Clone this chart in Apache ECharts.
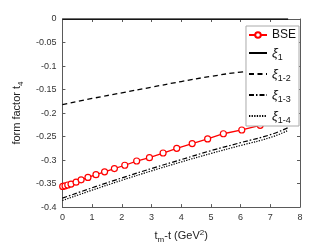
<!DOCTYPE html>
<html><head><meta charset="utf-8">
<script src="https://cdn.jsdelivr.net/npm/echarts@6/dist/echarts.min.js"></script>
<style>html,body{margin:0;padding:0;background:#fff}#c{width:332px;height:249px}</style>
</head><body><div id="c"></div>
<script>
var bseX = [0.01,0.09,0.18,0.29,0.46,0.63,0.86,1.13,1.42,1.75,2.1,2.5,2.93,3.39,3.85,4.37,4.89,5.42,6.04,6.66,7.3];
var bseY = [-0.356,-0.355,-0.353,-0.351,-0.347,-0.342,-0.337,-0.331,-0.325,-0.318,-0.311,-0.302,-0.295,-0.285,-0.275,-0.265,-0.255,-0.244,-0.236,-0.226,-0.216];
var xiX = [0,1,2,3,4,5,6,7,7.6];
var xi1Y = [0,0,0,0,0,0,0,0,0];
var xi12Y = [-0.182,-0.169,-0.157,-0.145,-0.133,-0.122,-0.113,-0.108,-0.106];
var xi13Y = [-0.381,-0.359,-0.338,-0.318,-0.299,-0.280,-0.263,-0.246,-0.231];
var xi14Y = [-0.386,-0.364,-0.343,-0.323,-0.304,-0.286,-0.269,-0.252,-0.237];
var xTicks = [0,1,2,3,4,5,6,7,8];

function pairs(xs, ys){ return xs.map(function(x,i){return [x, ys[i]];}); }
var legendLabels = {
  'BSE': '{n|BSE}',
  'xi1': '{g|ξ}{s|1}',
  'xi12': '{g|ξ}{s|1-2}',
  'xi13': '{g|ξ}{s|1-3}',
  'xi14': '{g|ξ}{s|1-4}'
};
var ax = '#5a5a5a';
var chart = echarts.init(document.getElementById('c'), null, {renderer:'canvas'});
var font = 'Liberation Sans, Arial, sans-serif';
chart.setOption({
  animation:false,
  grid:{left:43, right:32, top:19, bottom:35},
  xAxis:[{
    type:'value', min:0, max:8, interval:1,
    axisLine:{onZero:false, lineStyle:{color:ax, width:1}},
    axisTick:{inside:true, length:3, lineStyle:{color:ax}},
    splitLine:{show:false},
    axisLabel:{color:'#333', fontSize:9, fontFamily:font, margin:6,
      customValues:xTicks},
    name:'{a|t}{s|m}{a|-t (GeV}{p|2}{a|)}', nameLocation:'middle', nameGap:18,
    nameTextStyle:{color:'#222', fontFamily:font, rich:{
      a:{fontSize:11, fontFamily:font, color:'#222', lineHeight:16},
      s:{fontSize:8, fontFamily:font, color:'#222', lineHeight:16, padding:[9,0,0,0]},
      p:{fontSize:8, fontFamily:font, color:'#222', lineHeight:16, padding:[0,0,6,0]}
    }}
  },{
    type:'value', min:0, max:8, interval:1, position:'top',
    axisLine:{onZero:false, lineStyle:{color:ax}},
    axisTick:{inside:true, length:3, lineStyle:{color:ax}},
    axisLabel:{show:false}, splitLine:{show:false}
  }],
  yAxis:[{
    type:'value', min:-0.4, max:0, interval:0.05,
    axisLine:{show:true, onZero:false, lineStyle:{color:ax}},
    axisTick:{show:true, inside:true, length:3, lineStyle:{color:ax}},
    splitLine:{show:false},
    axisLabel:{color:'#333', fontSize:9, fontFamily:font, margin:6},
    name:'{a|form factor t}{s|4}', nameLocation:'middle', nameGap:33, nameRotate:90,
    nameTextStyle:{color:'#222', fontFamily:font, rich:{
      a:{fontSize:11, fontFamily:font, color:'#222', lineHeight:16},
      s:{fontSize:8, fontFamily:font, color:'#222', lineHeight:16, padding:[9,0,0,0]}
    }}
  },{
    type:'value', min:-0.4, max:0, interval:0.05, position:'right',
    axisLine:{show:true, onZero:false, lineStyle:{color:ax}},
    axisTick:{show:true, inside:true, length:3, lineStyle:{color:ax}},
    axisLabel:{show:false}, splitLine:{show:false}
  }],
  legend:{
    orient:'vertical', right:33, top:26, z:10,
    backgroundColor:'#fff', borderColor:'#aaa', borderWidth:1,
    padding:[3,3,1,2], itemGap:3, itemWidth:18, itemHeight:7,
    formatter:function(n){return legendLabels[n];},
    textStyle:{fontFamily:font, color:'#111', rich:{
      n:{fontSize:12, fontFamily:font, color:'#111', lineHeight:17},
      g:{fontSize:13, fontFamily:font, fontStyle:'italic', color:'#111', lineHeight:17},
      s:{fontSize:9, fontFamily:font, color:'#111', lineHeight:17, padding:[9,0,0,0]}
    }},
    data:[
      {name:'BSE'},
      {name:'xi1', itemStyle:{opacity:0}},
      {name:'xi12', itemStyle:{opacity:0}},
      {name:'xi13', itemStyle:{opacity:0}},
      {name:'xi14', itemStyle:{opacity:0}}
    ]
  },
  series:[
    {name:'BSE', type:'line', data:pairs(bseX,bseY), symbol:'circle', symbolSize:6,
      showAllSymbol:true,
      itemStyle:{color:'#fff', borderColor:'#ff0000', borderWidth:1.2},
      lineStyle:{color:'#ff0000', width:1.3}, z:3},
    {name:'xi1', type:'line', data:pairs(xiX,xi1Y), symbol:'none', lineStyle:{color:'#000', width:1.3}, itemStyle:{color:'#000'}},
    {name:'xi12', type:'line', data:pairs(xiX,xi12Y), symbol:'none', smooth:true, lineStyle:{color:'#000', width:1.3, type:[5,3.5]}, itemStyle:{color:'#000'}},
    {name:'xi13', type:'line', data:pairs(xiX,xi13Y), symbol:'none', smooth:true, lineStyle:{color:'#000', width:1.2, type:[5,2,1.5,2]}, itemStyle:{color:'#000'}},
    {name:'xi14', type:'line', data:pairs(xiX,xi14Y), symbol:'none', smooth:true, lineStyle:{color:'#000', width:1.2, type:[1.3,1.3]}, itemStyle:{color:'#000'}}
  ]
});
</script></body></html>
